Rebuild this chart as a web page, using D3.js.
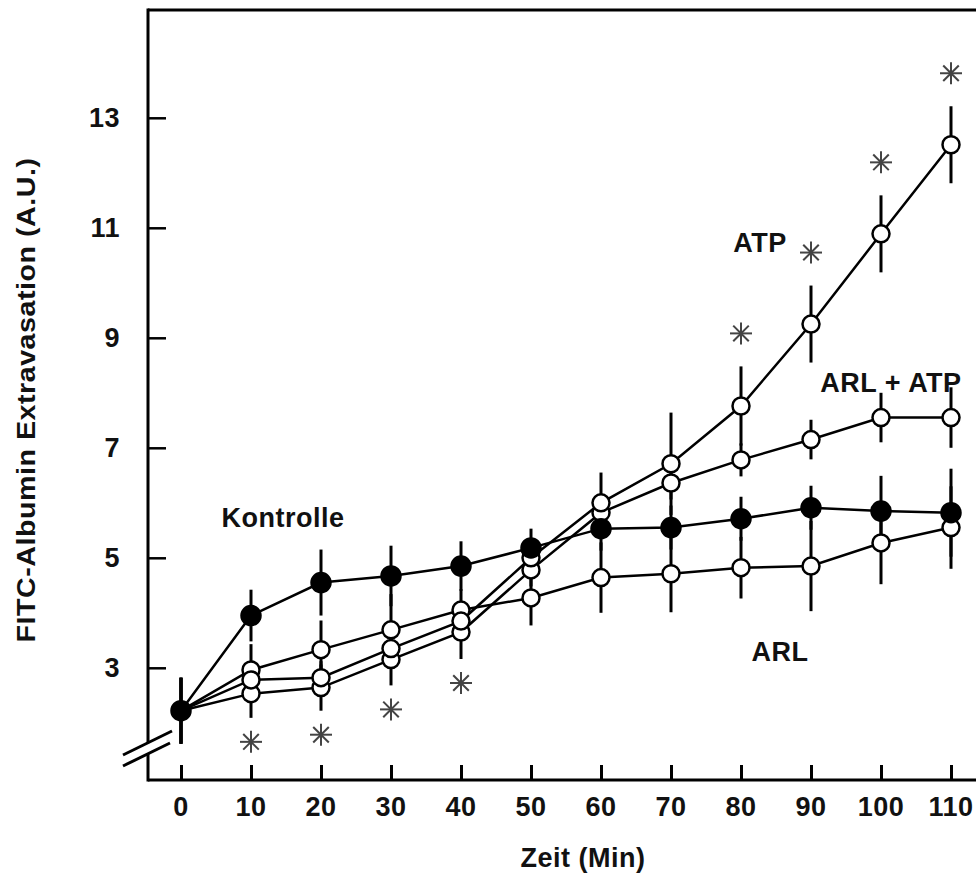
<!DOCTYPE html>
<html>
<head>
<meta charset="utf-8">
<script src="https://cdn.jsdelivr.net/npm/d3@7"></script>
<style>
  body { margin: 0; background: #fff; }
  svg { display: block; }
  text { font-family: "Liberation Sans", Arial, sans-serif; font-weight: bold; fill: #111; letter-spacing: 0.5px; }
</style>
</head>
<body>
<div id="chart"></div>
<script>
const times = [0, 10, 20, 30, 40, 50, 60, 70, 80, 90, 100, 110];
const yTicks = [3, 5, 7, 9, 11, 13];

const kontrolle    = [2.22, 3.95, 4.55, 4.67, 4.85, 5.18, 5.53, 5.55, 5.71, 5.91, 5.85, 5.82];
const kontrolleErr = [0.6, 0.47, 0.6, 0.55, 0.45, 0.35, 0.4, 0.4, 0.4, 0.4, 0.64, 0.8];
const atp          = [2.22, 2.78, 2.82, 3.35, 3.85, 5.0, 6.0, 6.71, 7.76, 9.25, 10.89, 12.51];
const atpErr       = [0.6, 0.3, 0.3, 0.35, 0.35, 0.3, 0.55, 0.93, 0.72, 0.7, 0.7, 0.7];
const arlAtp       = [2.22, 2.53, 2.64, 3.15, 3.65, 4.78, 5.82, 6.36, 6.78, 7.15, 7.55, 7.55];
const arlAtpErr    = [0.6, 0.44, 0.42, 0.47, 0.49, 0.3, 0.3, 0.3, 0.3, 0.36, 0.45, 0.55];
const arl          = [2.22, 2.96, 3.33, 3.69, 4.05, 4.27, 4.64, 4.71, 4.82, 4.85, 5.27, 5.55];
const arlErr       = [0.6, 0.47, 0.53, 0.65, 0.38, 0.5, 0.64, 0.7, 0.56, 0.82, 0.75, 0.75];

const starsLow  = [10, 20, 30, 40];     // under ARL + ATP
const starsHigh = [80, 90, 100, 110];   // over ATP

const series = [
  { name: "ARL",       values: arl,       err: arlErr,       filled: false, label: [780, 652] },
  { name: "ARL + ATP", values: arlAtp,    err: arlAtpErr,    filled: false, label: [891, 383] },
  { name: "ATP",       values: atp,       err: atpErr,       filled: false, label: [760, 243] },
  { name: "Kontrolle", values: kontrolle, err: kontrolleErr, filled: true,  label: [283, 518] }
];

const W = 976, H = 875;
const axLeft = 148, axTop = 10, axBottom = 780;
const fs = 27;

const svg = d3.select("#chart").append("svg")
  .attr("width", W).attr("height", H);

const x = d3.scaleLinear().domain([0, 110]).range([181, 951]);
const y = d3.scaleLinear().domain([0.96, 14.96]).range([axBottom, axTop]);

// frame: top line, left and bottom axes
svg.append("line").attr("x1", axLeft).attr("x2", W).attr("y1", axTop).attr("y2", axTop)
  .attr("stroke", "#000").attr("stroke-width", 3);

svg.append("g")
  .attr("transform", `translate(${axLeft},0)`)
  .call(d3.axisRight(y).tickValues(yTicks).tickSize(18).tickFormat(""))
  .call(g => g.select(".domain").remove())
  .call(g => g.selectAll(".tick line").attr("stroke", "#000").attr("stroke-width", 2.5));

svg.append("g")
  .attr("transform", `translate(0,${axBottom})`)
  .call(d3.axisTop(x).tickValues(times).tickSize(15).tickFormat(""))
  .call(g => g.select(".domain").remove())
  .call(g => g.selectAll(".tick line").attr("stroke", "#000").attr("stroke-width", 3));

svg.append("line").attr("x1", axLeft).attr("x2", axLeft).attr("y1", axTop - 1.5).attr("y2", axBottom + 1.5)
  .attr("stroke", "#000").attr("stroke-width", 3);
svg.append("line").attr("x1", axLeft).attr("x2", W).attr("y1", axBottom).attr("y2", axBottom)
  .attr("stroke", "#000").attr("stroke-width", 3);

// axis break
svg.append("polygon")
  .attr("points", "123,755 172,731 170,743 123,765")
  .attr("fill", "#fff");
[[123, 755, 172, 731], [123, 766, 170, 743]].forEach(([x1, y1, x2, y2]) => {
  svg.append("line").attr("x1", x1).attr("y1", y1).attr("x2", x2).attr("y2", y2)
    .attr("stroke", "#000").attr("stroke-width", 3);
});

// tick labels
svg.selectAll(".ylab").data(yTicks).enter().append("text")
  .attr("x", 120).attr("y", d => y(d))
  .attr("text-anchor", "end").attr("dominant-baseline", "central")
  .attr("font-size", fs).text(d => d);

svg.selectAll(".xlab").data(times).enter().append("text")
  .attr("x", d => x(d)).attr("y", 807)
  .attr("text-anchor", "middle").attr("dominant-baseline", "central")
  .attr("font-size", fs).text(d => d);

svg.append("text")
  .attr("x", 583).attr("y", 858)
  .attr("text-anchor", "middle").attr("dominant-baseline", "central")
  .attr("font-size", fs).text("Zeit (Min)");

svg.append("text")
  .attr("transform", "translate(26,400) rotate(-90)")
  .attr("text-anchor", "middle").attr("dominant-baseline", "central")
  .attr("font-size", 26)
  .attr("textLength", 485).attr("lengthAdjust", "spacingAndGlyphs")
  .text("FITC-Albumin Extravasation (A.U.)");

// error bars
series.forEach(s => {
  svg.append("g").selectAll("line")
    .data(times.map((t, i) => ({ t, v: s.values[i], e: s.err[i] })))
    .enter().append("line")
    .attr("x1", d => x(d.t)).attr("x2", d => x(d.t))
    .attr("y1", d => y(d.v - d.e)).attr("y2", d => y(d.v + d.e))
    .attr("stroke", "#000").attr("stroke-width", 3);
});

// lines
const line = d3.line().x((d, i) => x(times[i])).y(d => y(d));
series.forEach(s => {
  svg.append("path").datum(s.values)
    .attr("fill", "none").attr("stroke", "#000").attr("stroke-width", 2.5)
    .attr("d", line);
});

// markers
series.forEach(s => {
  svg.append("g").selectAll("circle")
    .data(s.values).enter().append("circle")
    .attr("cx", (d, i) => x(times[i])).attr("cy", d => y(d))
    .attr("r", s.filled ? 9.5 : 8.5)
    .attr("fill", s.filled ? "#000" : "#fff")
    .attr("stroke", "#000").attr("stroke-width", 2.5);
});

// series labels
series.forEach(s => {
  svg.append("text")
    .attr("x", s.label[0]).attr("y", s.label[1])
    .attr("text-anchor", "middle").attr("dominant-baseline", "central")
    .attr("font-size", fs).text(s.name);
});

// significance stars
function star(cx, cy) {
  const g = svg.append("g").attr("transform", `translate(${cx},${cy})`);
  [0, 45, 90, 135].forEach(a => {
    const r = 11, rad = a * Math.PI / 180;
    g.append("line")
      .attr("x1", -r * Math.cos(rad)).attr("y1", -r * Math.sin(rad))
      .attr("x2", r * Math.cos(rad)).attr("y2", r * Math.sin(rad))
      .attr("stroke", "#444").attr("stroke-width", 2);
  });
}
starsLow.forEach(t => {
  const i = times.indexOf(t);
  star(x(t), y(arlAtp[i] - arlAtpErr[i]) + 24);
});
starsHigh.forEach(t => {
  const i = times.indexOf(t);
  star(x(t), y(atp[i] + atpErr[i]) - 33);
});
</script>
</body>
</html>
